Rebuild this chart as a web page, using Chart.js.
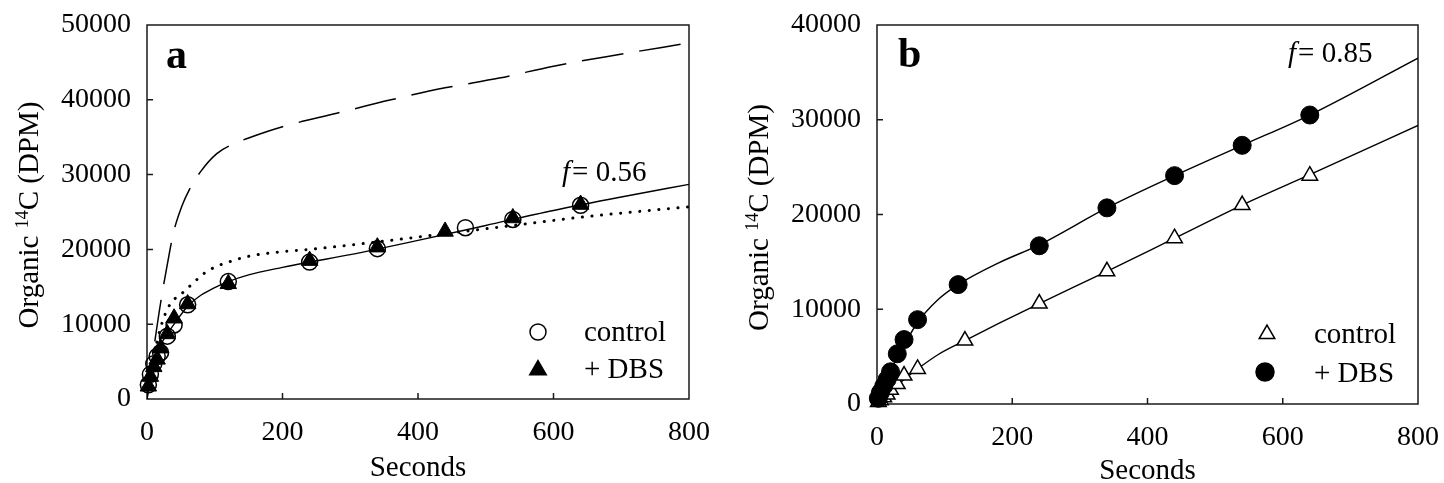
<!DOCTYPE html>
<html>
<head>
<meta charset="utf-8">
<script src="https://cdn.jsdelivr.net/npm/chart.js@4.4.1/dist/chart.umd.min.js"></script>
<style>
  html, body { margin: 0; padding: 0; background: #fff; }
  #wrap { display: flex; width: 1444px; height: 483px; }
  canvas { display: block; }
</style>
</head>
<body>
<div id="wrap">
  <canvas id="chartA" width="722" height="483"></canvas>
  <canvas id="chartB" width="722" height="483"></canvas>
</div>
<script>
const FONT = "'Liberation Serif', 'Times New Roman', serif";

// ---- panel a ----
const ctrlTimesA = [2, 5, 10, 15, 20, 30, 40, 60, 120, 240, 340, 470, 540, 640];
const ctrlA = [1900, 3300, 4700, 5700, 6200, 8400, 9900, 12600, 15700, 18300, 20100, 22900, 24000, 25900];
const dbsTimesA = [2, 5, 10, 15, 20, 30, 40, 60, 120, 240, 340, 440, 540, 640];
const dbsA = [1700, 3000, 4300, 5300, 6800, 8700, 10800, 12700, 15400, 18500, 20300, 22400, 24200, 26000];

const solidTimesA = [0, 5, 10, 20, 30, 40, 60, 80, 100, 120, 150, 200, 240, 300, 400, 500, 600, 700, 800];
const solidA = [0, 2800, 4800, 7200, 8700, 10000, 12400, 13900, 14900, 15700, 16600, 17600, 18300, 19300, 21200, 23200, 25200, 27000, 28700];

const dotTimesA = [0, 10, 20, 30, 40, 54, 68, 83, 95, 110, 127, 142, 157, 200, 240, 340, 440, 540, 640, 800];
const dotA = [0, 5600, 9500, 12000, 13300, 14300, 15500, 16700, 17400, 18000, 18500, 18900, 19200, 19700, 20000, 21000, 22100, 23200, 24300, 25700];

const dashTimesA = [0, 10, 20, 30, 39, 52, 62, 80, 103, 125, 150, 200, 280, 360, 440, 520, 600, 680, 800];
const dashA = [0, 6700, 12800, 18000, 22200, 25900, 27900, 30500, 32800, 34000, 34900, 36400, 38200, 40000, 41600, 42900, 44500, 45800, 47600];

// ---- panel b ----
const ctrlTimesB = [2, 5, 10, 15, 20, 30, 40, 60, 130, 240, 340, 440, 540, 640];
const ctrlB = [200, 400, 700, 1000, 1500, 2100, 3000, 3700, 6700, 10600, 14000, 17500, 21000, 24100];
const dbsTimesB = [2, 5, 10, 15, 20, 30, 40, 60, 120, 240, 340, 440, 540, 640];
const dbsB = [600, 1200, 1900, 2600, 3400, 5300, 6800, 8900, 12600, 16700, 20700, 24100, 27300, 30500];

const upperTimesB = [0, 5, 10, 20, 30, 40, 60, 90, 120, 180, 240, 340, 440, 540, 640, 800];
const upperB = [0, 1100, 2000, 3500, 4900, 6200, 8600, 11000, 12600, 14900, 16800, 20700, 24100, 27300, 30500, 36500];
const lowerTimesB = [0, 20, 40, 60, 90, 130, 180, 240, 340, 440, 540, 640, 800];
const lowerB = [0, 1300, 2600, 3700, 5200, 6700, 8500, 10600, 14000, 17500, 21000, 24200, 29400];

const xTicks = [0, 200, 400, 600, 800];
const yTicksA = [0, 10000, 20000, 30000, 40000, 50000];
const yTicksB = [0, 10000, 20000, 30000, 40000];

const pts = (xs, ys) => xs.map((x, i) => ({ x, y: ys[i] }));

function marker(ctx, style, x, y, r, fill) {
  ctx.beginPath();
  if (style === 'circle') {
    ctx.arc(x, y, r, 0, Math.PI * 2);
  } else {
    const h = r * Math.sqrt(3) / 2;
    ctx.moveTo(x, y - r);
    ctx.lineTo(x + h, y + r / 2);
    ctx.lineTo(x - h, y + r / 2);
    ctx.closePath();
  }
  ctx.fillStyle = fill;
  ctx.fill();
  ctx.stroke();
}

const decor = (cfg) => ({
  id: 'decor',
  beforeDatasetsDraw(chart) {
    const { ctx, chartArea: a, scales: { x, y } } = chart;
    ctx.save();
    ctx.strokeStyle = '#1a1a1a';
    ctx.lineWidth = 1.5;
    ctx.strokeRect(a.left, a.top, a.right - a.left, a.bottom - a.top);
    ctx.beginPath();
    x.ticks.forEach(t => {
      if (t.value > x.min && t.value < x.max) {
        const px = x.getPixelForValue(t.value);
        ctx.moveTo(px, a.bottom);
        ctx.lineTo(px, a.bottom - 6);
      }
    });
    y.ticks.forEach(t => {
      if (t.value > y.min && t.value < y.max) {
        const py = y.getPixelForValue(t.value);
        ctx.moveTo(a.left, py);
        ctx.lineTo(a.left + 6, py);
      }
    });
    ctx.stroke();
    ctx.restore();
  },
  afterDraw(chart) {
    const { ctx, chartArea: a } = chart;
    ctx.save();
    ctx.fillStyle = '#000';
    ctx.textBaseline = 'alphabetic';

    // panel letter
    ctx.font = 'bold 42px ' + FONT;
    ctx.fillText(cfg.letter, cfg.letterX, cfg.letterY);

    // f = ...
    ctx.font = 'italic 29px ' + FONT;
    ctx.fillText('f', cfg.fX, cfg.fY);
    const fw = ctx.measureText('f').width;
    ctx.font = '29px ' + FONT;
    ctx.fillText('= ' + cfg.fVal, cfg.fX + fw + 2, cfg.fY);

    // x title
    ctx.textAlign = 'center';
    ctx.font = '29px ' + FONT;
    ctx.fillText('Seconds', (a.left + a.right) / 2, cfg.xTitleY);

    // y title, rotated, with superscript
    ctx.save();
    ctx.translate(cfg.yTitleX, (a.top + a.bottom) / 2 + 3);
    ctx.rotate(-Math.PI / 2);
    ctx.textAlign = 'left';
    const big = '29px ' + FONT, small = '18px ' + FONT;
    ctx.font = big;
    const w1 = ctx.measureText('Organic ').width;
    const w3 = ctx.measureText('C (DPM)').width;
    ctx.font = small;
    const w2 = ctx.measureText('14').width;
    const x0 = -(w1 + w2 + w3) / 2;
    ctx.font = big;
    ctx.fillText('Organic ', x0, 0);
    ctx.font = small;
    ctx.fillText('14', x0 + w1, -10);
    ctx.font = big;
    ctx.fillText('C (DPM)', x0 + w1 + w2, 0);
    ctx.restore();

    // legend
    ctx.textAlign = 'left';
    ctx.font = '29px ' + FONT;
    cfg.legend.forEach(it => {
      ctx.strokeStyle = '#000';
      ctx.lineWidth = 1.5;
      marker(ctx, it.style, it.mx, it.my, it.r, it.fill);
      ctx.fillStyle = '#000';
      ctx.fillText(it.text, cfg.legendTextX, it.ty);
    });
    ctx.restore();
  }
});

function lineSet(data, opts) {
  return Object.assign({
    data,
    showLine: true,
    pointRadius: 0,
    borderColor: '#000',
    borderWidth: 1.4,
    cubicInterpolationMode: 'monotone',
    fill: false
  }, opts);
}

function markSet(data, style, r, fill, bw) {
  return {
    data,
    showLine: false,
    pointStyle: style,
    pointRadius: r,
    pointBackgroundColor: fill,
    pointBorderColor: '#000',
    pointBorderWidth: bw,
    clip: false
  };
}

function scales(yMax, yTicks, yWidth, xHeight) {
  const tickFont = { family: FONT, size: 28 };
  return {
    x: {
      type: 'linear', min: 0, max: 800,
      afterBuildTicks: s => { s.ticks = xTicks.map(v => ({ value: v })); },
      afterFit: s => { s.height = xHeight; s.paddingLeft = 0; s.paddingRight = 0; },
      grid: { display: false, drawTicks: false },
      border: { display: false },
      ticks: { color: '#000', font: tickFont, padding: 17, maxRotation: 0 }
    },
    y: {
      type: 'linear', min: 0, max: yMax,
      afterBuildTicks: s => { s.ticks = yTicks.map(v => ({ value: v })); },
      afterFit: s => { s.width = yWidth; s.paddingTop = 0; s.paddingBottom = 0; },
      grid: { display: false, drawTicks: false },
      border: { display: false },
      ticks: { color: '#000', font: tickFont, padding: 16, callback: v => String(v) }
    }
  };
}

const common = {
  responsive: false,
  animation: false,
  devicePixelRatio: 1,
  plugins: { legend: { display: false }, tooltip: { enabled: false } },
  events: []
};

new Chart(document.getElementById('chartA'), {
  type: 'scatter',
  data: {
    datasets: [
      markSet(pts(dbsTimesA, dbsA), 'triangle', 9.5, '#000', 1),
      markSet(pts(ctrlTimesA, ctrlA), 'circle', 8, 'rgba(0,0,0,0)', 1.5),
      lineSet(pts(solidTimesA, solidA), {}),
      lineSet(pts(dotTimesA, dotA), { borderWidth: 3, borderDash: [0.1, 9.5], borderCapStyle: 'round' }),
      lineSet(pts(dashTimesA, dashA), { borderWidth: 1.5, borderDash: [42, 16] })
    ]
  },
  options: Object.assign({}, common, {
    layout: { padding: { left: 0, right: 33, top: 25, bottom: 0 } },
    scales: scales(50000, yTicksA, 147, 84)
  }),
  plugins: [decor({
    letter: 'a', letterX: 166, letterY: 68,
    fX: 562, fY: 181, fVal: '0.56',
    xTitleY: 476, yTitleX: 38,
    legendTextX: 584,
    legend: [
      { style: 'circle', mx: 538, my: 332, r: 8, fill: 'rgba(0,0,0,0)', text: 'control', ty: 341 },
      { style: 'triangle', mx: 538, my: 370, r: 9.5, fill: '#000', text: '+ DBS', ty: 378 }
    ]
  })]
});

new Chart(document.getElementById('chartB'), {
  type: 'scatter',
  data: {
    datasets: [
      markSet(pts(dbsTimesB, dbsB), 'circle', 9, '#000', 1),
      markSet(pts(ctrlTimesB, ctrlB), 'triangle', 9, '#fff', 1.5),
      lineSet(pts(upperTimesB, upperB), {}),
      lineSet(pts(lowerTimesB, lowerB), {})
    ]
  },
  options: Object.assign({}, common, {
    layout: { padding: { left: 0, right: 26, top: 25, bottom: 0 } },
    scales: scales(40000, yTicksB, 155, 79)
  }),
  plugins: [decor({
    letter: 'b', letterX: 176, letterY: 67,
    fX: 566, fY: 62, fVal: '0.85',
    xTitleY: 479, yTitleX: 46,
    legendTextX: 592,
    legend: [
      { style: 'triangle', mx: 545, my: 334, r: 9, fill: '#fff', text: 'control', ty: 343 },
      { style: 'circle', mx: 543, my: 372, r: 9, fill: '#000', text: '+ DBS', ty: 382 }
    ]
  })]
});
</script>
</body>
</html>
